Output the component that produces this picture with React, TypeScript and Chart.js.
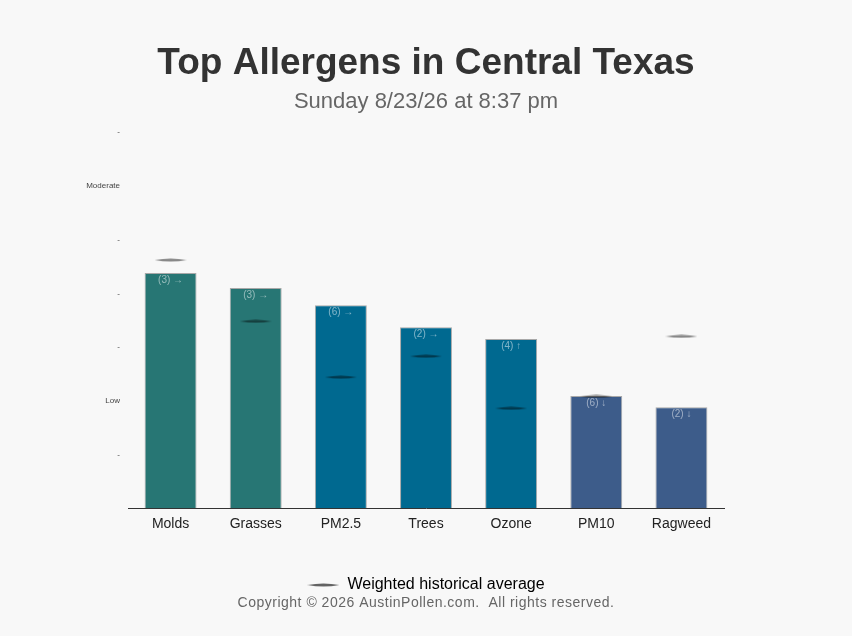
import React, { useEffect, useRef } from "react";
import { Chart, registerables } from "chart.js";

Chart.register(...registerables);

const FONT = "'Liberation Sans', Arial, sans-serif";

// allergen levels, on a 0-7 scale
const categories = ["Molds", "Grasses", "PM2.5", "Trees", "Ozone", "PM10", "Ragweed"];
const levels = [4.38, 4.1, 3.78, 3.37, 3.15, 2.09, 1.88];
const historical = [4.62, 3.48, 2.44, 2.83, 1.86, 2.08, 3.2];
const counts = [3, 3, 6, 2, 4, 6, 2];
const trends = ["→", "→", "→", "→", "↑", "↓", "↓"];
const barColors = ["#277674", "#277674", "#006990", "#006990", "#006990", "#3d5c8a", "#3d5c8a"];
const levelNames: Record<number, string> = { 2: "Low", 6: "Moderate" };

// thin lens-shaped marker for the historical average
function makeMarker(alpha: number) {
  const c = document.createElement("canvas");
  c.width = 32;
  c.height = 4;
  const g = c.getContext("2d")!;
  g.fillStyle = `rgba(0,0,0,${alpha})`;
  g.beginPath();
  g.moveTo(0, 2);
  g.quadraticCurveTo(16, -1, 32, 2);
  g.quadraticCurveTo(16, 5, 0, 2);
  g.fill();
  return c;
}

const overlay = {
  id: "overlay",
  afterDatasetsDraw(chart: any) {
    const ctx = chart.ctx;
    const bars = chart.getDatasetMeta(0).data;
    ctx.save();
    ctx.font = `10px ${FONT}`;
    ctx.fillStyle = "rgba(255,255,255,0.5)";
    ctx.textAlign = "center";
    ctx.textBaseline = "middle";
    bars.forEach((bar: any, i: number) => {
      ctx.fillText(`(${counts[i]}) ${trends[i]}`, bar.x, bar.y + 7);
    });
    ctx.restore();
  },
  afterDraw(chart: any) {
    const ctx = chart.ctx;
    ctx.save();
    ctx.font = `14px ${FONT}`;
    (ctx as any).letterSpacing = "0.5px";
    ctx.fillStyle = "#666";
    ctx.textAlign = "center";
    ctx.textBaseline = "middle";
    ctx.fillText("Copyright © 2026 AustinPollen.com.  All rights reserved.", chart.width / 2, 603);
    ctx.restore();
  },
};

export default function App() {
  const canvasRef = useRef<HTMLCanvasElement>(null);
  const chartRef = useRef<Chart | null>(null);

  useEffect(() => {
    document.body.style.margin = "0";
    document.body.style.background = "#f8f8f8";
    const canvas = canvasRef.current;
    if (!canvas) return;
    if (chartRef.current) chartRef.current.destroy();

    const legendMarker = makeMarker(0.6);

    chartRef.current = new Chart(canvas, {
      type: "bar",
      data: {
        labels: categories,
        datasets: [
          {
            type: "bar",
            label: "Level",
            data: levels,
            backgroundColor: barColors,
            borderColor: "#a8a8a8",
            borderWidth: 1,
            categoryPercentage: 1,
            barPercentage: 0.61,
            order: 2,
          },
          {
            type: "line",
            label: "Weighted historical average",
            data: historical,
            showLine: false,
            pointStyle: makeMarker(0.45) as any,
            order: 1,
          },
        ],
      } as any,
      options: {
        animation: false,
        responsive: true,
        maintainAspectRatio: false,
        layout: { padding: { left: 0, right: 0, top: 0, bottom: 33 } },
        scales: {
          x: {
            grid: { display: false, drawTicks: false },
            border: { display: true, color: "#333", width: 1 },
            ticks: { color: "#222", font: { size: 14, family: FONT }, padding: 8 },
          },
          y: {
            min: 0,
            max: 7,
            afterFit: (s: any) => {
              s.width = 128;
            },
            grid: { display: false, drawTicks: false },
            border: { display: false },
            ticks: {
              stepSize: 1,
              padding: 8,
              color: "#444",
              font: { size: 8, family: FONT },
              callback: (v: any) => (v === 0 ? "" : levelNames[v] ?? "-"),
            },
          },
          // empty right-hand gutter so the plot sits like the original
          gutter: {
            position: "right",
            display: true,
            afterFit: (s: any) => {
              s.width = 128;
            },
            grid: { display: false, drawTicks: false },
            border: { display: false },
            ticks: { display: false },
          },
        },
        plugins: {
          title: {
            display: true,
            text: "Top Allergens in Central Texas",
            color: "#333",
            font: { size: 37, weight: "bold", family: FONT },
            padding: { top: 42, bottom: 2.4 },
          },
          subtitle: {
            display: true,
            text: "Sunday 8/23/26 at 8:37 pm",
            color: "#666",
            font: { size: 22, family: FONT },
            padding: { top: 0, bottom: 17 },
          },
          legend: {
            display: true,
            position: "bottom",
            labels: {
              color: "#222",
              font: { size: 16, family: FONT },
              usePointStyle: true,
              pointStyleWidth: 32,
              boxWidth: 32,
              boxHeight: 4,
              padding: 36,
              generateLabels: () => [
                {
                  text: "Weighted historical average",
                  fillStyle: "#666",
                  strokeStyle: "#666",
                  lineWidth: 0,
                  pointStyle: legendMarker,
                  datasetIndex: 1,
                  hidden: false,
                } as any,
              ],
            },
          },
          tooltip: { enabled: false },
        },
      } as any,
      plugins: [overlay],
    });

    return () => {
      chartRef.current?.destroy();
      chartRef.current = null;
    };
  }, []);

  return (
    <div style={{ width: 852, height: 636, background: "#f8f8f8" }}>
      <canvas ref={canvasRef} />
    </div>
  );
}
